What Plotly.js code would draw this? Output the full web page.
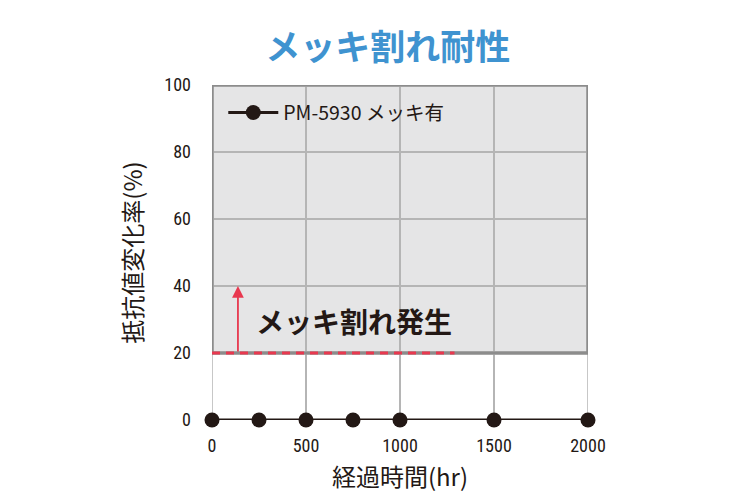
<!DOCTYPE html>
<html><head><meta charset="utf-8">
<script src="https://cdn.plot.ly/plotly-3.0.1.min.js"></script>
<style>html,body{margin:0;padding:0;background:#fff}#chart{width:750px;height:500px}</style>
</head><body><div id="chart"></div>
<script>
const hours = [0, 250, 500, 750, 1000, 1500, 2000];
const resistanceChange = [0, 0, 0, 0, 0, 0, 0];
const seriesName = 'PM-5930 メッキ有';
const xTicks = [0, 500, 1000, 1500, 2000];
const yTicks = [0, 20, 40, 60, 80, 100];
const crackThreshold = 20;
const crackLineEnd = 1290;
const arrowX = 138;
const arrowTop = 40;

const numFont = '"Liberation Sans Narrow", "Roboto Condensed", Arial, sans-serif';
const jpFont = '"Noto Sans CJK JP", "Noto Sans", sans-serif';
const xMin = xTicks[0], xMax = xTicks[xTicks.length - 1];

const trace = {
  x: hours, y: resistanceChange, name: seriesName,
  type: 'scatter', mode: 'lines+markers', cliponaxis: false,
  line: {color: '#231815', width: 3},
  marker: {color: '#231815', size: 15}
};

const layout = {
  width: 750, height: 500,
  margin: {l: 212, r: 162, t: 85, b: 80},
  paper_bgcolor: '#ffffff', plot_bgcolor: '#ffffff',
  showlegend: true,
  legend: {x: 0.03, y: 0.975, xanchor: 'left', yanchor: 'top', bgcolor: 'rgba(0,0,0,0)',
    font: {family: jpFont, size: 19.5, color: '#231815'}, itemwidth: 50},
  title: {text: '<b>メッキ割れ耐性</b>', x: 0.517, xanchor: 'center', y: 0.905, yanchor: 'middle',
    font: {family: jpFont, size: 35, color: '#3f93d0'}},
  xaxis: {range: [xMin, xMax], tickvals: xTicks, ticktext: xTicks.map(String),
    showgrid: true, gridcolor: '#b5b5b5', gridwidth: 1.5,
    zeroline: false, showline: false, ticks: '',
    ticklabelstandoff: 13,
    tickfont: {family: numFont, size: 18, color: '#231815'},
    title: {text: '経過時間(hr)', font: {family: jpFont, size: 24, color: '#231815'}, standoff: 14}},
  yaxis: {range: [0, 100], tickvals: yTicks, ticktext: yTicks.map(String),
    showgrid: true, gridcolor: '#b5b5b5', gridwidth: 1.5,
    zeroline: false, showline: false, ticks: '',
    ticklabelstandoff: 20,
    tickfont: {family: numFont, size: 18, color: '#231815'},
    title: {text: '抵抗値変化率(%)', font: {family: jpFont, size: 24, color: '#231815'}, standoff: 14}},
  shapes: [
    {type: 'line', xref: 'x', yref: 'y', x0: xMin, x1: xMin, y0: 0, y1: crackThreshold,
      line: {color: '#b5b5b5', width: 1.5}, layer: 'below'},
    {type: 'line', xref: 'x', yref: 'y', x0: xMax, x1: xMax, y0: 0, y1: crackThreshold,
      line: {color: '#b5b5b5', width: 1.5}, layer: 'below'},
    {type: 'rect', xref: 'x', yref: 'y', x0: xMin, x1: xMax, y0: crackThreshold, y1: 100,
      fillcolor: '#e5e5e6', line: {color: '#8c8c8c', width: 3}, layer: 'below'},
    {type: 'rect', xref: 'x', yref: 'y', x0: xMin, x1: xMax, y0: crackThreshold, y1: 100,
      fillcolor: 'rgba(0,0,0,0)', line: {color: '#8c8c8c', width: 3}, layer: 'above'},
    {type: 'line', xref: 'x', yref: 'y', x0: xMin, x1: crackLineEnd, y0: crackThreshold, y1: crackThreshold,
      line: {color: '#e8384f', width: 3, dash: '8px,6px'}, layer: 'above'}
  ],
  annotations: [
    {xref: 'x', yref: 'y', axref: 'x', ayref: 'y', x: arrowX, y: arrowTop, ax: arrowX, ay: crackThreshold,
      text: '', showarrow: true, arrowhead: 2, arrowsize: 1.3, arrowwidth: 1.8, arrowcolor: '#e8384f'},
    {xref: 'x', yref: 'y', x: 755, y: 29.5, text: '<b>メッキ割れ発生</b>', showarrow: false,
      font: {family: jpFont, size: 28, color: '#231815'}}
  ]
};

Plotly.newPlot('chart', [trace], layout, {displayModeBar: false, staticPlot: true});
</script></body></html>
